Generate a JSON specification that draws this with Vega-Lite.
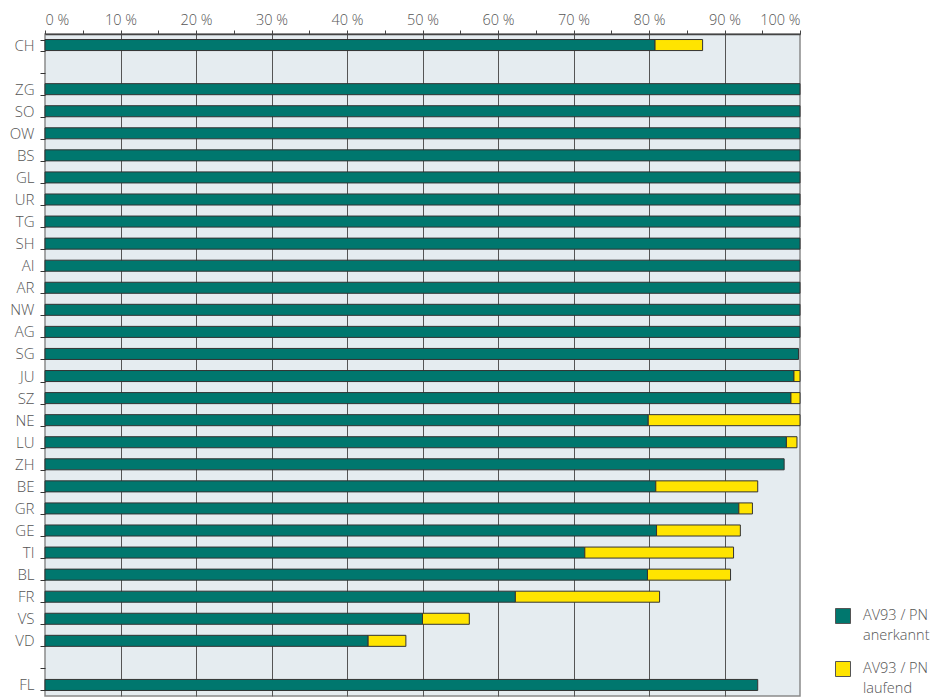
{
  "$schema": "https://vega.github.io/schema/vega-lite/v6.json",
  "width": 755,
  "height": 662,
  "autosize": {"type": "none"},
  "padding": {"left": 45, "top": 34, "right": 131, "bottom": 4},
  "background": "white",
  "config": {
    "font": "Open Sans",
    "view": {"fill": "#e5ecf0", "stroke": "#8a8a8a", "strokeWidth": 1.5},
    "style": {"guide-label": {"lineHeight": 20}}
  },
  "data": {
    "values": [
      {"canton": "CH", "status": "AV93 / PN|anerkannt", "ord": 1, "value": 80.8},
      {"canton": "CH", "status": "AV93 / PN|laufend", "ord": 2, "value": 6.3},
      {"canton": "ZG", "status": "AV93 / PN|anerkannt", "ord": 1, "value": 100},
      {"canton": "SO", "status": "AV93 / PN|anerkannt", "ord": 1, "value": 100},
      {"canton": "OW", "status": "AV93 / PN|anerkannt", "ord": 1, "value": 100},
      {"canton": "BS", "status": "AV93 / PN|anerkannt", "ord": 1, "value": 100},
      {"canton": "GL", "status": "AV93 / PN|anerkannt", "ord": 1, "value": 100},
      {"canton": "UR", "status": "AV93 / PN|anerkannt", "ord": 1, "value": 100},
      {"canton": "TG", "status": "AV93 / PN|anerkannt", "ord": 1, "value": 100},
      {"canton": "SH", "status": "AV93 / PN|anerkannt", "ord": 1, "value": 100},
      {"canton": "AI", "status": "AV93 / PN|anerkannt", "ord": 1, "value": 100},
      {"canton": "AR", "status": "AV93 / PN|anerkannt", "ord": 1, "value": 100},
      {"canton": "NW", "status": "AV93 / PN|anerkannt", "ord": 1, "value": 100},
      {"canton": "AG", "status": "AV93 / PN|anerkannt", "ord": 1, "value": 100},
      {"canton": "SG", "status": "AV93 / PN|anerkannt", "ord": 1, "value": 99.8},
      {"canton": "JU", "status": "AV93 / PN|anerkannt", "ord": 1, "value": 99.2},
      {"canton": "JU", "status": "AV93 / PN|laufend", "ord": 2, "value": 0.8},
      {"canton": "SZ", "status": "AV93 / PN|anerkannt", "ord": 1, "value": 98.8},
      {"canton": "SZ", "status": "AV93 / PN|laufend", "ord": 2, "value": 1.2},
      {"canton": "NE", "status": "AV93 / PN|anerkannt", "ord": 1, "value": 79.9},
      {"canton": "NE", "status": "AV93 / PN|laufend", "ord": 2, "value": 20.1},
      {"canton": "LU", "status": "AV93 / PN|anerkannt", "ord": 1, "value": 98.2},
      {"canton": "LU", "status": "AV93 / PN|laufend", "ord": 2, "value": 1.4},
      {"canton": "ZH", "status": "AV93 / PN|anerkannt", "ord": 1, "value": 97.9},
      {"canton": "BE", "status": "AV93 / PN|anerkannt", "ord": 1, "value": 80.9},
      {"canton": "BE", "status": "AV93 / PN|laufend", "ord": 2, "value": 13.5},
      {"canton": "GR", "status": "AV93 / PN|anerkannt", "ord": 1, "value": 91.9},
      {"canton": "GR", "status": "AV93 / PN|laufend", "ord": 2, "value": 1.8},
      {"canton": "GE", "status": "AV93 / PN|anerkannt", "ord": 1, "value": 81.0},
      {"canton": "GE", "status": "AV93 / PN|laufend", "ord": 2, "value": 11.1},
      {"canton": "TI", "status": "AV93 / PN|anerkannt", "ord": 1, "value": 71.5},
      {"canton": "TI", "status": "AV93 / PN|laufend", "ord": 2, "value": 19.7},
      {"canton": "BL", "status": "AV93 / PN|anerkannt", "ord": 1, "value": 79.8},
      {"canton": "BL", "status": "AV93 / PN|laufend", "ord": 2, "value": 11.0},
      {"canton": "FR", "status": "AV93 / PN|anerkannt", "ord": 1, "value": 62.3},
      {"canton": "FR", "status": "AV93 / PN|laufend", "ord": 2, "value": 19.1},
      {"canton": "VS", "status": "AV93 / PN|anerkannt", "ord": 1, "value": 50.0},
      {"canton": "VS", "status": "AV93 / PN|laufend", "ord": 2, "value": 6.2},
      {"canton": "VD", "status": "AV93 / PN|anerkannt", "ord": 1, "value": 42.8},
      {"canton": "VD", "status": "AV93 / PN|laufend", "ord": 2, "value": 5.0},
      {"canton": "FL", "status": "AV93 / PN|anerkannt", "ord": 1, "value": 94.4}
    ]
  },
  "mark": {"type": "bar", "stroke": "#333333", "strokeWidth": 1},
  "encoding": {
    "y": {
      "field": "canton",
      "type": "nominal",
      "scale": {
        "domain": ["CH", " ", "ZG", "SO", "OW", "BS", "GL", "UR", "TG", "SH", "AI", "AR", "NW", "AG", "SG", "JU", "SZ", "NE", "LU", "ZH", "BE", "GR", "GE", "TI", "BL", "FR", "VS", "VD", "  ", "FL"],
        "paddingInner": 0.5,
        "paddingOuter": 0.25
      },
      "axis": {
        "title": null,
        "domain": false,
        "ticks": true,
        "tickBand": "extent",
        "tickSize": 5,
        "tickColor": "#333333",
        "labelFontSize": 15,
        "labelFontWeight": 300,
        "labelColor": "#555555",
        "labelPadding": 6,
        "grid": false
      }
    },
    "x": {
      "field": "value",
      "type": "quantitative",
      "stack": "zero",
      "scale": {"domain": [0, 100], "nice": false},
      "axis": {
        "orient": "top",
        "title": null,
        "values": [0, 5, 10, 15, 20, 25, 30, 35, 40, 45, 50, 55, 60, 65, 70, 75, 80, 85, 90, 95, 100],
        "labelExpr": "datum.value % 10 === 0 ? datum.value + ' %' : ''",
        "labelFontSize": 14.5,
        "labelFontWeight": 300,
        "labelColor": "#555555",
        "labelPadding": 3,
        "domainColor": "#444444",
        "domainWidth": 1.5,
        "tickColor": "#444444",
        "tickSize": 4,
        "grid": true,
        "gridColor": "#555555",
        "gridWidth": 1,
        "gridOpacity": {"condition": {"test": "datum.value % 10 === 0 && datum.value > 0 && datum.value < 100", "value": 1}, "value": 0}
      }
    },
    "color": {
      "field": "status",
      "type": "nominal",
      "scale": {
        "domain": ["AV93 / PN|anerkannt", "AV93 / PN|laufend"],
        "range": ["#00776e", "#ffe400"]
      },
      "legend": {
        "title": null,
        "orient": "none",
        "legendX": 790,
        "legendY": 574,
        "symbolType": "square",
        "symbolSize": 225,
        "symbolStrokeColor": "#555555",
        "symbolStrokeWidth": 1,
        "labelFontSize": 14.5,
        "labelFontWeight": 300,
        "labelColor": "#555555",
        "labelOffset": 12,
        "labelExpr": "split(datum.label, '|')",
        "labelBaseline": "middle",
        "rowPadding": 16
      }
    },
    "order": {"field": "ord", "type": "quantitative"}
  }
}
